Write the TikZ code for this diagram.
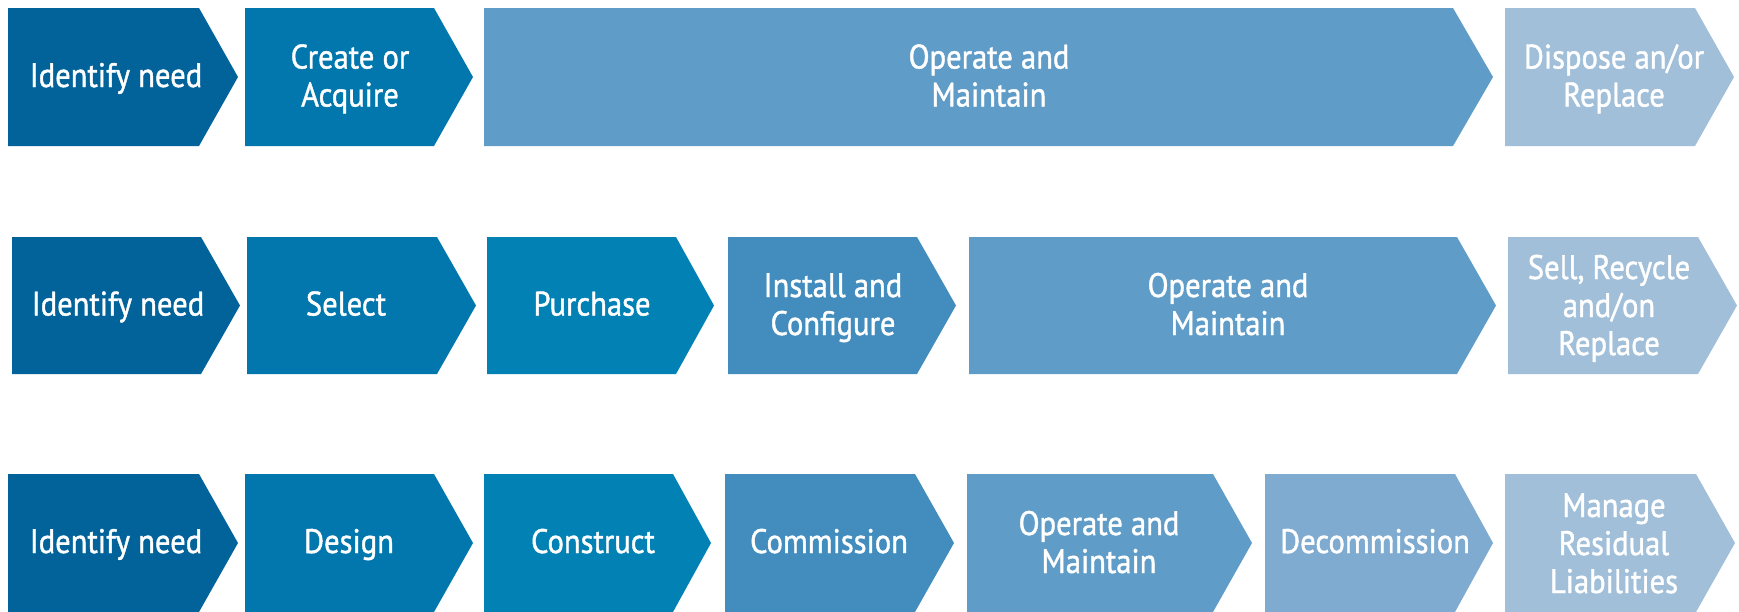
\documentclass[tikz,border=0pt]{standalone}
\usepackage{fontspec}
\setmainfont{PT Sans}[FakeStretch=0.9,FakeBold=1.2]
\definecolor{cA}{HTML}{02639B}
\definecolor{cB}{HTML}{0277AD}
\definecolor{cC}{HTML}{0281B5}
\definecolor{cD}{HTML}{428DBE}
\definecolor{cE}{HTML}{5F9DC8}
\definecolor{cF}{HTML}{80ABD0}
\definecolor{cG}{HTML}{A1BFD9}
\newcommand\chevshape[6]{% left, bodyend, tip, top, bottom, colour
  \fill[#6] (#1,#4) -- (#2,#4) -- (#3,{(#4+#5)/2}) -- (#2,#5) -- (#1,#5) -- cycle;}
\newcommand\mlines[1]{\begin{tabular}[t]{@{}c@{}}#1\end{tabular}}
\begin{document}
\begin{tikzpicture}[x=1pt,y=-1pt,
  txt/.style={text=white,inner sep=0pt,anchor=base,font=\fontsize{34}{38}\selectfont}]
\useasboundingbox (0,0) rectangle (1739,611);
% Row 1
\chevshape{8}{199}{238}{8}{146}{cA}
\chevshape{245}{434}{473}{8}{146}{cB}
\chevshape{484}{1453}{1493}{8}{146}{cE}
\chevshape{1505}{1695}{1734}{8}{146}{cG}
\node[txt] (r1a) at (116,87) {Identify need};
\node[txt] (r1b) at (350,68.5) {\mlines{Create or\\Acquire}};
\node[txt] (r1c) at (989,68.5) {\mlines{Operate and\\Maintain}};
\node[txt] (r1d) at (1614,68.5) {\mlines{Dispose an/or\\Replace}};
% Row 2
\chevshape{12}{201}{240}{237}{374}{cA}
\chevshape{247}{437}{476}{237}{374}{cB}
\chevshape{487}{676}{714}{237}{374}{cC}
\chevshape{728}{917}{956}{237}{374}{cD}
\chevshape{969}{1457}{1496}{237}{374}{cE}
\chevshape{1508}{1698}{1737}{237}{374}{cG}
\node[txt] (r2a) at (118,315.5) {Identify need};
\node[txt] (r2b) at (346,315.5) {Select};
\node[txt] (r2c) at (592,315.5) {Purchase};
\node[txt] (r2d) at (833,297) {\mlines{Install and\\Configure}};
\node[txt] (r2e) at (1228,297) {\mlines{Operate and\\Maintain}};
\node[txt] (r2f) at (1609,279) {\mlines{Sell, Recycle\\and/on\\Replace}};
% Row 3
\chevshape{8}{199}{238}{474}{612}{cA}
\chevshape{245}{434}{473}{474}{612}{cB}
\chevshape{484}{673}{711}{474}{612}{cC}
\chevshape{725}{915}{954}{474}{612}{cD}
\chevshape{967}{1213}{1252}{474}{612}{cE}
\chevshape{1265}{1455}{1493}{474}{612}{cF}
\chevshape{1505}{1696}{1735}{474}{612}{cG}
\node[txt] (r3a) at (116,553) {Identify need};
\node[txt] (r3b) at (349,553) {Design};
\node[txt] (r3c) at (593,553) {Construct};
\node[txt] (r3d) at (829,553) {Commission};
\node[txt] (r3e) at (1099,535) {\mlines{Operate and\\Maintain}};
\node[txt] (r3f) at (1375,553) {Decommission};
\node[txt] (r3g) at (1614,517) {\mlines{Manage\\Residual\\Liabilities}};
\end{tikzpicture}
\end{document}
